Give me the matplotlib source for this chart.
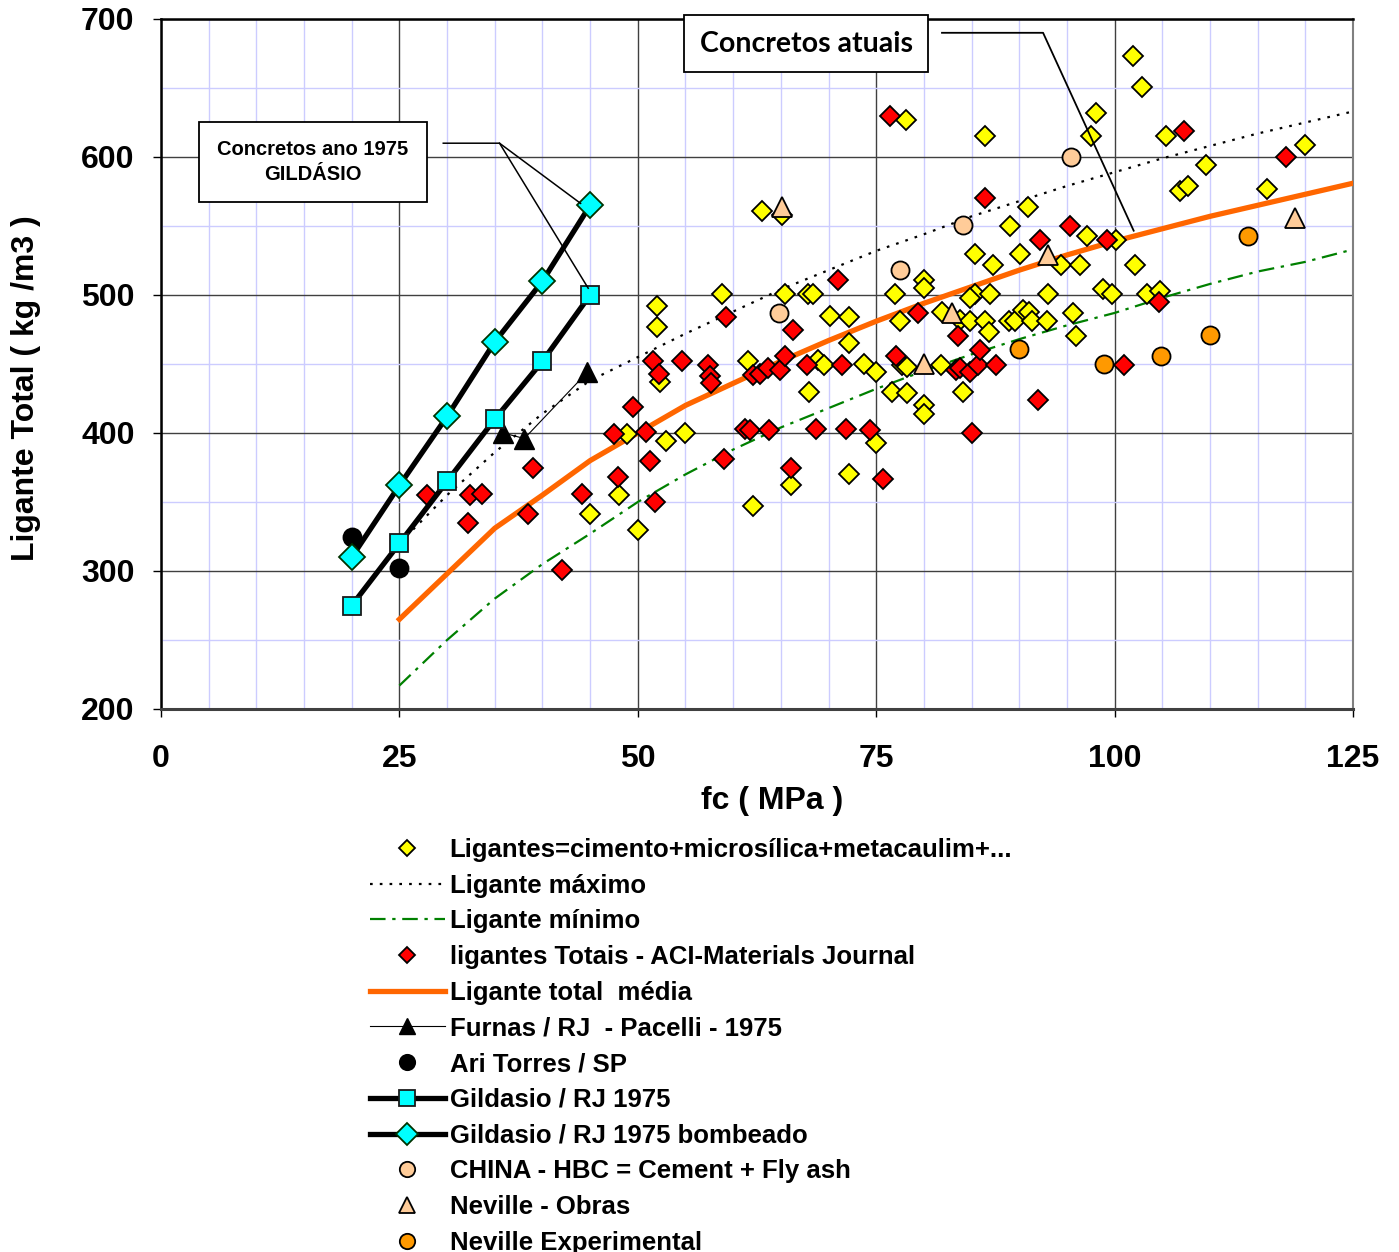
import numpy as np
import matplotlib.pyplot as plt
from matplotlib.ticker import MultipleLocator

plt.rcParams['font.family'] = ['Liberation Sans', 'DejaVu Sans']
plt.rcParams['font.weight'] = 'bold'
plt.rcParams['axes.labelweight'] = 'bold'

# Ligantes = cimento + microsilica + metacaulim + ... (yellow diamonds)
lig_x = [45.0, 48.0, 48.9, 50.0, 52.0, 52.0, 52.3, 53.0, 55.0,
         58.8, 61.6, 62.1, 63.0, 65.1, 65.4, 67.9, 68.4, 68.0, 68.9, 69.5,
         70.2, 72.1, 72.1, 72.1, 73.7, 75.0, 75.0, 66.1,
         77.0, 77.5, 78.1, 76.7, 78.2, 77.7, 78.2,
         80.0, 80.0, 80.0, 80.0, 81.8, 81.9, 83.8, 84.8, 84.1,
         85.4, 85.4, 84.8, 86.9, 86.4, 86.4, 86.8, 87.3,
         89.0, 88.9, 89.6, 90.1, 90.9, 90.4, 91.0, 91.3, 92.9, 93.0,
         94.4, 96.4, 95.6, 96.0, 97.1, 97.5, 98.1, 98.8, 99.7, 100.1,
         101.9, 102.1, 102.9, 103.4, 104.8, 105.4, 106.9, 107.7, 109.6, 116.0, 120.0]
lig_y = [341, 355, 399, 330, 492, 477, 437, 394, 400,
         501, 452, 347, 561, 558, 501, 501, 501, 430, 453, 449,
         485, 484, 465, 370, 450, 444, 393, 362,
         501, 481, 627, 430, 429, 449, 448,
         511, 505, 420, 414, 449, 488, 482, 481, 430,
         530, 501, 498, 501, 615, 481, 473, 522,
         550, 481, 481, 530, 564, 489, 488, 481, 481, 501,
         522, 522, 487, 470, 543, 615, 632, 504, 501, 540,
         673, 522, 651, 501, 503, 615, 575, 579, 594, 577, 609]

# ligantes Totais - ACI-Materials Journal (red diamonds)
aci_x = [27.9, 32.4, 33.7, 32.2, 39.0, 38.5, 42.1, 44.2, 47.9, 47.5, 49.5, 50.9, 51.3, 51.8,
         51.6, 52.2, 54.6, 57.4, 57.6, 57.7, 59.3, 59.0,
         61.2, 61.8, 63.8, 62.1, 62.8, 63.7, 64.9, 65.4, 66.3, 67.7, 66.1,
         71.0, 71.4, 68.7, 71.8, 74.3, 75.7, 76.4,
         77.1, 79.4, 83.4, 83.8, 84.8, 85.7, 85.9, 83.6, 85.0, 87.6, 86.4,
         92.2, 92.0, 95.3, 99.2, 101.0, 104.7, 107.3, 118.0]
aci_y = [355, 355, 356, 335, 375, 341, 301, 356, 368, 399, 419, 401, 380, 350,
         452, 443, 452, 449, 441, 436, 484, 381,
         403, 402, 402, 442, 443, 447, 446, 456, 475, 449, 375,
         511, 449, 403, 403, 402, 367, 630,
         456, 487, 446, 447, 444, 449, 460, 470, 400, 449, 570,
         540, 424, 550, 540, 449, 495, 619, 600]

# curves: maximum, minimum and mean total binder
curve_x = [25, 30, 35, 40, 45, 50, 55, 60, 65, 70, 75, 80, 85, 90, 95, 100, 105, 110, 115, 120, 125]
lig_max = [320, 355, 386, 414, 438, 455, 472, 488, 504, 518, 532, 544, 557, 568, 579, 589, 599, 608, 617, 625, 633]
lig_min = [217, 250, 280, 305, 327, 350, 370, 388, 404, 418, 432, 445, 457, 468, 478, 487, 498, 508, 517, 524, 533]
lig_media = [265, 298, 331, 355, 380, 400, 420, 436, 452, 467, 481, 494, 506, 518, 529, 539, 548, 557, 565, 573, 581]

furnas_x = [35.9, 38.1, 44.7]
furnas_y = [400, 396, 444]
ari_x = [20, 25]
ari_y = [325, 302]
gild_x = [20, 25, 30, 35, 40, 45]
gild_y = [275, 320, 365, 410, 452, 500]
gild_bomb_y = [310, 362, 412, 466, 510, 565]
china_x = [64.8, 77.5, 84.1, 95.4]
china_y = [487, 518, 551, 600]
nev_obras_x = [65.1, 80.0, 82.9, 93.0, 118.9]
nev_obras_y = [564, 450, 487, 529, 556]
nev_exp_x = [90.0, 98.9, 104.9, 110.0, 114.0]
nev_exp_y = [461, 450, 456, 471, 543]

fig = plt.figure(figsize=(13.99, 12.52), dpi=100)
ax = fig.add_axes([161 / 1399, 1 - 709 / 1252, 1192 / 1399, 690 / 1252])

ax.set_xlim(0, 125)
ax.set_ylim(200, 700)
ax.xaxis.set_major_locator(MultipleLocator(25))
ax.xaxis.set_minor_locator(MultipleLocator(5))
ax.yaxis.set_major_locator(MultipleLocator(100))
ax.yaxis.set_minor_locator(MultipleLocator(50))
ax.grid(which='minor', color='#ccccff', lw=1.0, zorder=0)
ax.grid(which='major', color='#404040', lw=1.0, zorder=0.5)
ax.set_axisbelow(True)
ax.tick_params(which='minor', length=0)
ax.tick_params(which='major', direction='out', length=6, width=1, labelsize=23)
ax.tick_params(axis='x', pad=19)
ax.tick_params(axis='y', pad=13)
for side in ['left', 'top']:
    ax.spines[side].set_linewidth(1.8)
ax.spines['bottom'].set_color('#404040')
ax.spines['bottom'].set_linewidth(2.2)
ax.spines['right'].set_color('#808080')
ax.spines['right'].set_linewidth(1.5)

mk = dict(markeredgecolor='black', markeredgewidth=1.3, linestyle='none')

h_lig, = ax.plot(lig_x, lig_y, marker='D', markersize=10, markerfacecolor='#ffff00',
                 zorder=4, label='Ligantes=cimento+microsílica+metacaulim+...', **mk)
h_max, = ax.plot(curve_x, lig_max, color='black', lw=1.6, ls=(0, (1.2, 3.2)), zorder=2,
                 label='Ligante máximo')
h_min, = ax.plot(curve_x, lig_min, color='#008000', lw=1.6, ls=(0, (7, 3, 1.5, 3)), zorder=2,
                 label='Ligante mínimo')
h_aci, = ax.plot(aci_x, aci_y, marker='D', markersize=10, markerfacecolor='#ff0000',
                 zorder=5, label='ligantes Totais - ACI-Materials Journal', **mk)
h_med, = ax.plot(curve_x, lig_media, color='#ff6600', lw=3.8, zorder=3,
                 label='Ligante total  média')
h_fur, = ax.plot(furnas_x, furnas_y, color='black', lw=0.8, marker='^', markersize=14,
                 markerfacecolor='black', markeredgecolor='black', zorder=6,
                 label='Furnas / RJ  - Pacelli - 1975')
h_ari, = ax.plot(ari_x, ari_y, marker='o', markersize=13, markerfacecolor='black',
                 zorder=6, label='Ari Torres / SP', **mk)
h_gil, = ax.plot(gild_x, gild_y, color='black', lw=3.8, marker='s', markersize=13,
                 markerfacecolor='#00ffff', markeredgecolor='#1a1a1a', markeredgewidth=1.3,
                 zorder=6, label='Gildasio / RJ 1975')
h_gib, = ax.plot(gild_x, gild_bomb_y, color='black', lw=3.8, marker='D', markersize=13,
                 markerfacecolor='#00ffff', markeredgecolor='#003300', markeredgewidth=1.3,
                 zorder=6, label='Gildasio / RJ 1975 bombeado')
h_chi, = ax.plot(china_x, china_y, marker='o', markersize=13, markerfacecolor='#ffcc99',
                 zorder=6, label='CHINA - HBC = Cement + Fly ash', **mk)
h_nob, = ax.plot(nev_obras_x, nev_obras_y, marker='^', markersize=14, markerfacecolor='#ffcc99',
                 zorder=6, label='Neville - Obras', **mk)
h_nex, = ax.plot(nev_exp_x, nev_exp_y, marker='o', markersize=13, markerfacecolor='#ff9900',
                 zorder=6, label='Neville Experimental', **mk)

# call-out boxes and leader lines
ax.text(15.94, 596.4, 'Concretos ano 1975\nGILDÁSIO', ha='center', va='center',
        fontsize=14.5, linespacing=1.35, zorder=7,
        bbox=dict(boxstyle='square,pad=0.9', fc='white', ec='black', lw=1.3))
ax.plot([29.6, 35.5, 44.0], [610, 610, 566.4], color='black', lw=1.1, zorder=7)
ax.plot([35.5, 44.8], [610, 504.9], color='black', lw=1.1, zorder=7)

ax.text(67.64, 682.2, 'Concretos atuais', ha='center', va='center', fontsize=20.5,
        family=['Lato', 'DejaVu Sans'], zorder=7, clip_on=False,
        bbox=dict(boxstyle='square,pad=0.55', fc='white', ec='black', lw=1.3))
ax.plot([81.9, 92.5, 102.0], [690, 690, 546.6], color='black', lw=1.3, zorder=7, clip_on=False)

ax.set_xlabel('fc ( MPa )', fontsize=23)
ax.xaxis.label.set_va('center')
ax.xaxis.set_label_coords((772 - 161) / 1192, (709 - 801) / 690)
ax.set_ylabel('Ligante Total ( kg /m3 )', fontsize=23)
ax.yaxis.label.set_va('center')
ax.yaxis.set_label_coords((26 - 161) / 1192, (709 - 388) / 690)

handles = [h_lig, h_max, h_min, h_aci, h_med, h_fur, h_ari, h_gil, h_gib, h_chi, h_nob, h_nex]
leg = fig.legend(handles=handles, loc='upper left', bbox_to_anchor=(370 / 1399, 1 - 838 / 1252),
                 frameon=False, fontsize=18.5, numpoints=1, handlelength=2.9, handletextpad=0.2,
                 labelspacing=0.455, borderpad=0, borderaxespad=0, markerscale=0.85)

fig.savefig('out.png', dpi=100)
